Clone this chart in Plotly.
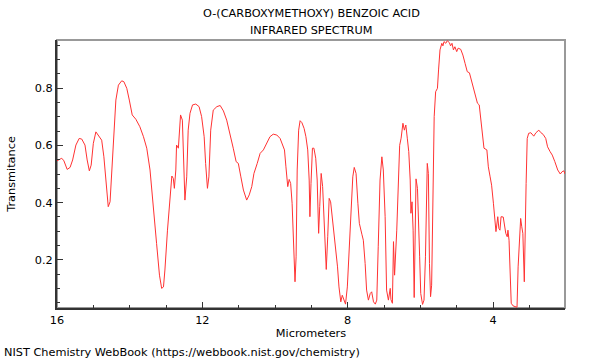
import plotly.graph_objects as go

# wavelength (micrometers) and transmittance
wavelength_um = [
    16.00, 15.87, 15.81, 15.72, 15.64, 15.57, 15.48, 15.39, 15.32, 15.23, 15.17, 15.11, 15.06, 15.00,
    14.93, 14.84, 14.77, 14.71, 14.65, 14.59, 14.54, 14.49, 14.43, 14.38, 14.31, 14.22, 14.16, 14.08,
    14.01, 13.93, 13.83, 13.72, 13.62, 13.53, 13.44, 13.35, 13.26, 13.18, 13.12, 13.07, 13.03, 12.96,
    12.89, 12.84, 12.80, 12.77, 12.73, 12.71, 12.66, 12.63, 12.60, 12.55, 12.52, 12.48, 12.43, 12.39,
    12.34, 12.27, 12.18, 12.09, 12.02, 11.95, 11.91, 11.86, 11.82, 11.77, 11.70, 11.60, 11.51, 11.42,
    11.33, 11.24, 11.15, 11.07, 11.01, 10.94, 10.87, 10.78, 10.71, 10.64, 10.58, 10.49, 10.41, 10.32,
    10.23, 10.14, 10.05, 9.95, 9.86, 9.79, 9.74, 9.70, 9.65, 9.61, 9.57, 9.53, 9.50, 9.45, 9.42, 9.39,
    9.35, 9.31, 9.26, 9.20, 9.15, 9.10, 9.06, 9.04, 9.01, 8.97, 8.93, 8.88, 8.84, 8.80, 8.77, 8.73,
    8.69, 8.64, 8.59, 8.55, 8.51, 8.47, 8.42, 8.35, 8.28, 8.24, 8.19, 8.15, 8.11, 8.06, 8.01, 7.96,
    7.89, 7.86, 7.82, 7.77, 7.72, 7.68, 7.61, 7.57, 7.52, 7.48, 7.43, 7.38, 7.34, 7.29, 7.24, 7.20,
    7.16, 7.11, 7.06, 7.02, 6.97, 6.93, 6.88, 6.83, 6.81, 6.77, 6.74, 6.71, 6.65, 6.61, 6.57, 6.53,
    6.48, 6.44, 6.40, 6.36, 6.32, 6.28, 6.26, 6.23, 6.20, 6.17, 6.15, 6.12, 6.08, 6.06, 6.02, 5.99,
    5.94, 5.90, 5.86, 5.81, 5.78, 5.75, 5.72, 5.69, 5.66, 5.62, 5.58, 5.53, 5.50, 5.46, 5.41, 5.38,
    5.35, 5.30, 5.26, 5.20, 5.17, 5.13, 5.09, 5.05, 5.00, 4.96, 4.89, 4.83, 4.77, 4.71, 4.65, 4.60,
    4.54, 4.49, 4.43, 4.38, 4.34, 4.28, 4.25, 4.17, 4.13, 4.08, 4.04, 3.99, 3.94, 3.92, 3.87, 3.84,
    3.81, 3.78, 3.72, 3.68, 3.65, 3.61, 3.59, 3.56, 3.52, 3.50, 3.45, 3.39, 3.34, 3.31, 3.27, 3.24,
    3.21, 3.18, 3.14, 3.12, 3.09, 3.06, 3.02, 2.96, 2.88, 2.82, 2.74, 2.69, 2.62, 2.55, 2.50, 2.43,
    2.37, 2.30, 2.22, 2.15, 2.10, 2.05, 2.02,
]
transmittance = [
    0.546, 0.555, 0.546, 0.516, 0.523, 0.549, 0.601, 0.624, 0.622, 0.601, 0.549, 0.511, 0.531, 0.607,
    0.647, 0.632, 0.618, 0.560, 0.467, 0.386, 0.403, 0.514, 0.665, 0.758, 0.810, 0.825, 0.822, 0.799,
    0.758, 0.706, 0.691, 0.665, 0.630, 0.590, 0.514, 0.398, 0.258, 0.147, 0.101, 0.106, 0.165, 0.304,
    0.432, 0.493, 0.485, 0.450, 0.514, 0.601, 0.590, 0.642, 0.706, 0.688, 0.595, 0.409, 0.490, 0.653,
    0.712, 0.741, 0.744, 0.735, 0.700, 0.630, 0.537, 0.450, 0.490, 0.653, 0.723, 0.735, 0.739, 0.720,
    0.688, 0.644, 0.590, 0.543, 0.537, 0.490, 0.444, 0.409, 0.427, 0.456, 0.502, 0.537, 0.572, 0.584,
    0.607, 0.630, 0.639, 0.636, 0.624, 0.601, 0.584, 0.525, 0.456, 0.481, 0.467, 0.398, 0.281, 0.124,
    0.211, 0.514, 0.653, 0.686, 0.679, 0.659, 0.630, 0.584, 0.479, 0.351, 0.467, 0.590, 0.590, 0.555,
    0.479, 0.293, 0.386, 0.502, 0.456, 0.328, 0.167, 0.281, 0.415, 0.403, 0.345, 0.258, 0.176, 0.106,
    0.054, 0.077, 0.062, 0.046, 0.106, 0.235, 0.398, 0.490, 0.523, 0.502, 0.398, 0.328, 0.290, 0.269,
    0.188, 0.095, 0.060, 0.083, 0.089, 0.054, 0.046, 0.060, 0.246, 0.479, 0.560, 0.514, 0.351, 0.095,
    0.060, 0.101, 0.062, 0.049, 0.264, 0.147, 0.304, 0.490, 0.600, 0.625, 0.677, 0.653, 0.671, 0.625,
    0.578, 0.479, 0.363, 0.403, 0.304, 0.069, 0.316, 0.483, 0.450, 0.330, 0.211, 0.083, 0.045, 0.060,
    0.211, 0.537, 0.502, 0.188, 0.072, 0.112, 0.363, 0.700, 0.787, 0.799, 0.863, 0.933, 0.956, 0.947,
    0.962, 0.956, 0.965, 0.958, 0.947, 0.956, 0.933, 0.944, 0.927, 0.939, 0.935, 0.915, 0.886, 0.857,
    0.853, 0.828, 0.793, 0.770, 0.747, 0.741, 0.688, 0.618, 0.590, 0.584, 0.525, 0.490, 0.461, 0.398,
    0.333, 0.299, 0.351, 0.310, 0.304, 0.351, 0.350, 0.313, 0.293, 0.281, 0.304, 0.269, 0.153, 0.049,
    0.040, 0.037, 0.035, 0.176, 0.304, 0.345, 0.316, 0.293, 0.124, 0.293, 0.467, 0.624, 0.642, 0.644,
    0.632, 0.644, 0.653, 0.645, 0.638, 0.624, 0.595, 0.578, 0.566, 0.543, 0.514, 0.500, 0.508, 0.511,
    0.500,
]

# keep lengths aligned
n = min(len(wavelength_um), len(transmittance))
wavelength_um = wavelength_um[:n]
transmittance = transmittance[:n]

x_tick_values = [16, 12, 8, 4]
x_tick_labels = ["16", "12", "8", "4"]
y_tick_values = [0.2, 0.4, 0.6, 0.8]
y_tick_labels = ["0.2", "0.4", "0.6", "0.8"]

FONT = "DejaVu Sans"
FS = 11.3

fig = go.Figure()
fig.add_trace(go.Scatter(
    x=wavelength_um, y=transmittance, mode="lines",
    line=dict(color="rgb(255,50,50)", width=1),
    hoverinfo="skip", showlegend=False,
))

fig.update_layout(
    width=600, height=360,
    margin=dict(l=57, r=35, t=40, b=52, autoexpand=False),
    paper_bgcolor="white", plot_bgcolor="white",
    font=dict(family=FONT, size=FS, color="black"),
    xaxis=dict(
        range=[16, 2.02], autorange=False, automargin=False,
        tickvals=x_tick_values, ticktext=x_tick_labels,
        ticks="inside", ticklen=6, tickwidth=1, tickcolor="#333",
        minor=dict(dtick=1, ticks="inside", ticklen=3, tickcolor="#333", tick0=0),
        showgrid=False, zeroline=False,
        showline=True, linecolor="#333", linewidth=2,
        title=dict(text="Micrometers", font=dict(size=FS), standoff=3),
    ),
    yaxis=dict(
        range=[0.0325, 0.9675], autorange=False, automargin=False,
        tickvals=y_tick_values, ticktext=y_tick_labels,
        ticks="inside", ticklen=6, tickwidth=1, tickcolor="#333",
        minor=dict(dtick=0.05, ticks="inside", ticklen=3, tickcolor="#333", tick0=0),
        showgrid=False, zeroline=False,
        showline=True, linecolor="#333", linewidth=2,
        title=dict(text="Transmitance", font=dict(size=FS), standoff=17),
    ),
    shapes=[dict(type="rect", xref="paper", yref="paper", x0=0, x1=1, y0=0, y1=1,
                 line=dict(color="#999", width=2), layer="below")],
    annotations=[
        dict(text="O-(CARBOXYMETHOXY) BENZOIC ACID",
             xref="paper", yref="paper", x=0.5, y=1, yshift=27,
             xanchor="center", yanchor="middle", showarrow=False,
             font=dict(size=FS)),
        dict(text="INFRARED SPECTRUM",
             xref="paper", yref="paper", x=0.5, y=1, yshift=10,
             xanchor="center", yanchor="middle", showarrow=False,
             font=dict(size=FS)),
        dict(text="NIST Chemistry WebBook (https://webbook.nist.gov/chemistry)",
             xref="paper", yref="paper", x=0, y=0, xshift=-55, yshift=-44,
             xanchor="left", yanchor="middle", showarrow=False,
             font=dict(size=FS)),
    ],
)

fig.write_html("out.html", config={"displayModeBar": False},
               post_script="document.body.style.margin='0';")
